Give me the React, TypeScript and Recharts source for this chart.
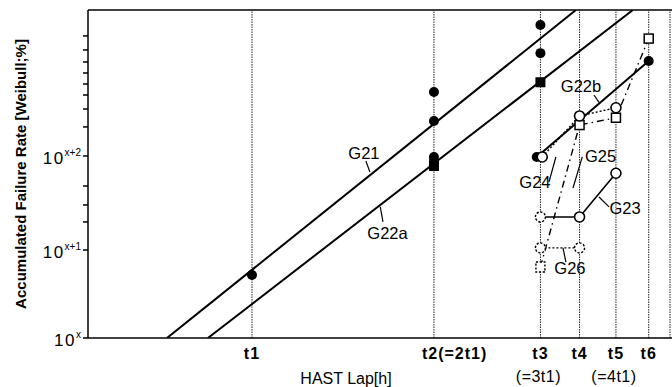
import React from 'react';
import { ComposedChart, Line, Scatter, XAxis, YAxis, ReferenceLine } from 'recharts';

// x: log2(t / t1), y: position on the Weibull axis in decades above 10^x
const X_MIN = -0.901;
const X_MAX = 2.308;
const Y_MAX = 3.604;

const tPositions = [0, 1, 1.585, 1.8, 2.0, 2.18];
const tLabels = ['t1', 't2(=2t1)', 't3', 't4', 't5', 't6'];
const tSubLabels = ['', '', '(=3t1)', '', '(=4t1)', ''];
const rightEdge = 2.297;

const majorTicks = [0, 0.967, 2.0];
const majorExps = ['x', 'x+1', 'x+2'];
const minorTicks = [1.275, 1.462, 1.67, 2.319, 2.516, 2.67, 2.791, 2.912, 3.033, 3.165, 3.319];

const g21 = [{ u: -0.467, v: 0 }, { u: 1.78, v: 3.604 }];
const g22a = [{ u: -0.242, v: 0 }, { u: 2.093, v: 3.604 }];
const g22b = [{ u: 1.565, v: 1.989 }, { u: 2.18, v: 3.044 }];
const g23 = [{ u: 1.585, v: 1.33 }, { u: 1.8, v: 1.33 }, { u: 2.0, v: 1.81 }];
const g24 = [{ u: 1.595, v: 1.989 }, { u: 1.8, v: 2.44 }, { u: 2.0, v: 2.53 }];
const g25 = [{ u: 1.585, v: 0.78 }, { u: 1.8, v: 2.34 }, { u: 2.0, v: 2.42 }, { u: 2.18, v: 3.29 }];
const g26 = [{ u: 1.585, v: 0.99 }, { u: 1.8, v: 0.99 }];

const filledCircles = [
  { u: 0, v: 0.692 },
  { u: 1, v: 2.703 },
  { u: 1, v: 2.385 },
  { u: 1, v: 1.989 },
  { u: 1, v: 1.945 },
  { u: 1.585, v: 3.44 },
  { u: 1.585, v: 3.13 },
  { u: 1.565, v: 1.989 },
  { u: 2.18, v: 3.044 },
];
const filledSquares = [{ u: 1, v: 1.89 }, { u: 1.585, v: 2.81 }];
const openCircles = [
  { u: 1.595, v: 1.989 },
  { u: 1.8, v: 2.44 },
  { u: 2.0, v: 2.53 },
  { u: 1.8, v: 1.33 },
  { u: 2.0, v: 1.81 },
];
const dashedCircles = [{ u: 1.585, v: 1.33 }, { u: 1.585, v: 0.99 }, { u: 1.8, v: 0.99 }];
const openSquares = [{ u: 1.8, v: 2.34 }, { u: 2.0, v: 2.42 }, { u: 2.18, v: 3.29 }];
const dashedSquares = [{ u: 1.585, v: 0.78 }];

const labelNames = ['G21', 'G22a', 'G22b', 'G24', 'G25', 'G23', 'G26'];
const labelPoints = [
  { u: 0.615, v: 2.03 },
  { u: 0.745, v: 1.154 },
  { u: 1.808, v: 2.769 },
  { u: 1.555, v: 1.714 },
  { u: 1.915, v: 2.0 },
  { u: 2.05, v: 1.429 },
  { u: 1.747, v: 0.769 },
];
const leaders = [
  [{ u: 0.626, v: 1.945 }, { u: 0.648, v: 1.824 }],
  [{ u: 0.72, v: 1.275 }, { u: 0.705, v: 1.44 }],
  [{ u: 1.879, v: 2.67 }, { u: 1.907, v: 2.59 }],
  [{ u: 1.632, v: 1.714 }, { u: 1.67, v: 1.989 }],
  [{ u: 1.764, v: 1.648 }, { u: 1.815, v: 1.99 }],
  [{ u: 1.907, v: 1.549 }, { u: 1.962, v: 1.44 }],
  [{ u: 1.709, v: 0.989 }, { u: 1.725, v: 0.835 }],
];

const FONT = '"Liberation Sans", Arial, sans-serif';

const XTick = (props: any) => {
  const { x, y, payload } = props;
  const i = tPositions.indexOf(payload.value);
  if (i < 0) return null;
  const label = tLabels[i];
  const isT2 = i === 1;
  return (
    <g>
      <text
        x={isT2 ? x - 12 : x}
        y={y + 21}
        textAnchor={isT2 ? 'start' : 'middle'}
        fontSize={16}
        fontWeight="bold"
        fontFamily={FONT}
        letterSpacing={1}
        fill="#000"
      >
        {label}
      </text>
      {tSubLabels[i] && (
        <text x={x - 2} y={y + 44} textAnchor="middle" fontSize={16} fontFamily={FONT} letterSpacing={0.5} fill="#000">
          {tSubLabels[i]}
        </text>
      )}
    </g>
  );
};

const YTick = (props: any) => {
  const { x, y, payload } = props;
  const i = majorTicks.indexOf(payload.value);
  if (i < 0) return null;
  return (
    <text x={x} y={y + 8} textAnchor="end" fontFamily={FONT} fill="#000">
      <tspan fontSize={17} letterSpacing={1.5}>10</tspan>
      <tspan fontSize={10} dy={-8}>
        {majorExps[i]}
      </tspan>
    </text>
  );
};

const FilledCircle = ({ cx, cy }: any) => <circle cx={cx} cy={cy} r={5} fill="#000" />;
const FilledSquare = ({ cx, cy }: any) => <rect x={cx - 5} y={cy - 5} width={10} height={10} fill="#000" />;
const OpenCircle = ({ cx, cy }: any) => (
  <circle cx={cx} cy={cy} r={5} fill="#fff" stroke="#000" strokeWidth={1.6} />
);
const DashedCircle = ({ cx, cy }: any) => (
  <circle cx={cx} cy={cy} r={5} fill="#fff" stroke="#000" strokeWidth={1.4} strokeDasharray="2.2 1.6" />
);
const OpenSquare = ({ cx, cy }: any) => (
  <rect x={cx - 4.5} y={cy - 4.5} width={9} height={9} fill="#fff" stroke="#000" strokeWidth={1.5} />
);
const DashedSquare = ({ cx, cy }: any) => (
  <rect x={cx - 4.5} y={cy - 5} width={9} height={10} fill="#fff" stroke="#000" strokeWidth={1.4} strokeDasharray="2.2 1.6" />
);
const NameLabel = ({ cx, cy, index }: any) => (
  <text x={cx} y={cy + 6} textAnchor="middle" fontSize={16.5} fontFamily={FONT} fill="#000">
    {labelNames[index]}
  </text>
);

export default function App() {
  return (
    <div style={{ position: 'absolute', left: 0, top: 0, width: 672, height: 387, background: '#fff' }}>
      <ComposedChart width={672} height={387} margin={{ top: 10, right: 0, bottom: 0, left: 0 }}>
        <XAxis
          type="number"
          dataKey="u"
          domain={[X_MIN, X_MAX]}
          allowDataOverflow
          ticks={tPositions}
          interval={0}
          height={49}
          tickLine={false}
          tickSize={0}
          tickMargin={0}
          tick={<XTick />}
          axisLine={{ stroke: '#000', strokeWidth: 1.5 }}
          label={{ value: 'HAST Lap[h]', position: 'insideBottom', offset: 0, dx: -34, dy: -3, fontSize: 16, fontFamily: FONT, fill: '#000' }}
        />
        <YAxis
          type="number"
          dataKey="v"
          domain={[0, Y_MAX]}
          allowDataOverflow
          ticks={[...majorTicks, ...minorTicks]}
          interval={0}
          width={88}
          tickSize={5}
          tickMargin={2}
          tickLine={{ stroke: '#000', strokeWidth: 1.5 }}
          tick={<YTick />}
          axisLine={{ stroke: '#000', strokeWidth: 1.5 }}
          label={{
            value: 'Accumulated Failure Rate [Weibull;%]',
            angle: -90,
            position: 'center',
            dx: -23,
            fontSize: 15,
            fontWeight: 'bold',
            fontFamily: FONT,
            fill: '#000',
          }}
        />
        <ReferenceLine y={Y_MAX} stroke="#000" strokeWidth={1.5} />
        {tPositions.map((t) => (
          <ReferenceLine key={t} x={t} stroke="#222" strokeWidth={1} strokeDasharray="1.5 1" />
        ))}
        <ReferenceLine x={rightEdge} stroke="#222" strokeWidth={1} strokeDasharray="1.5 1" />

        <Line data={g21} dataKey="v" type="linear" stroke="#000" strokeWidth={2} dot={false} isAnimationActive={false} />
        <Line data={g22a} dataKey="v" type="linear" stroke="#000" strokeWidth={2} dot={false} isAnimationActive={false} />
        <Line data={g22b} dataKey="v" type="linear" stroke="#000" strokeWidth={2} dot={false} isAnimationActive={false} />
        <Line data={g23} dataKey="v" type="linear" stroke="#000" strokeWidth={1.6} dot={false} isAnimationActive={false} />
        <Line data={g24} dataKey="v" type="linear" stroke="#000" strokeWidth={1.4} strokeDasharray="2 2" dot={false} isAnimationActive={false} />
        <Line data={g25} dataKey="v" type="linear" stroke="#000" strokeWidth={1.4} strokeDasharray="7 4 1.5 4" dot={false} isAnimationActive={false} />
        <Line data={g26} dataKey="v" type="linear" stroke="#000" strokeWidth={1.4} strokeDasharray="2 2" dot={false} isAnimationActive={false} />
        {leaders.map((seg, i) => (
          <Line key={i} data={seg} dataKey="v" type="linear" stroke="#000" strokeWidth={1.2} dot={false} isAnimationActive={false} />
        ))}

        <Scatter data={filledCircles} dataKey="v" shape={<FilledCircle />} isAnimationActive={false} />
        <Scatter data={filledSquares} dataKey="v" shape={<FilledSquare />} isAnimationActive={false} />
        <Scatter data={dashedCircles} dataKey="v" shape={<DashedCircle />} isAnimationActive={false} />
        <Scatter data={dashedSquares} dataKey="v" shape={<DashedSquare />} isAnimationActive={false} />
        <Scatter data={openSquares} dataKey="v" shape={<OpenSquare />} isAnimationActive={false} />
        <Scatter data={openCircles} dataKey="v" shape={<OpenCircle />} isAnimationActive={false} />
        <Scatter data={labelPoints} dataKey="v" shape={<NameLabel />} isAnimationActive={false} />
      </ComposedChart>
    </div>
  );
}
